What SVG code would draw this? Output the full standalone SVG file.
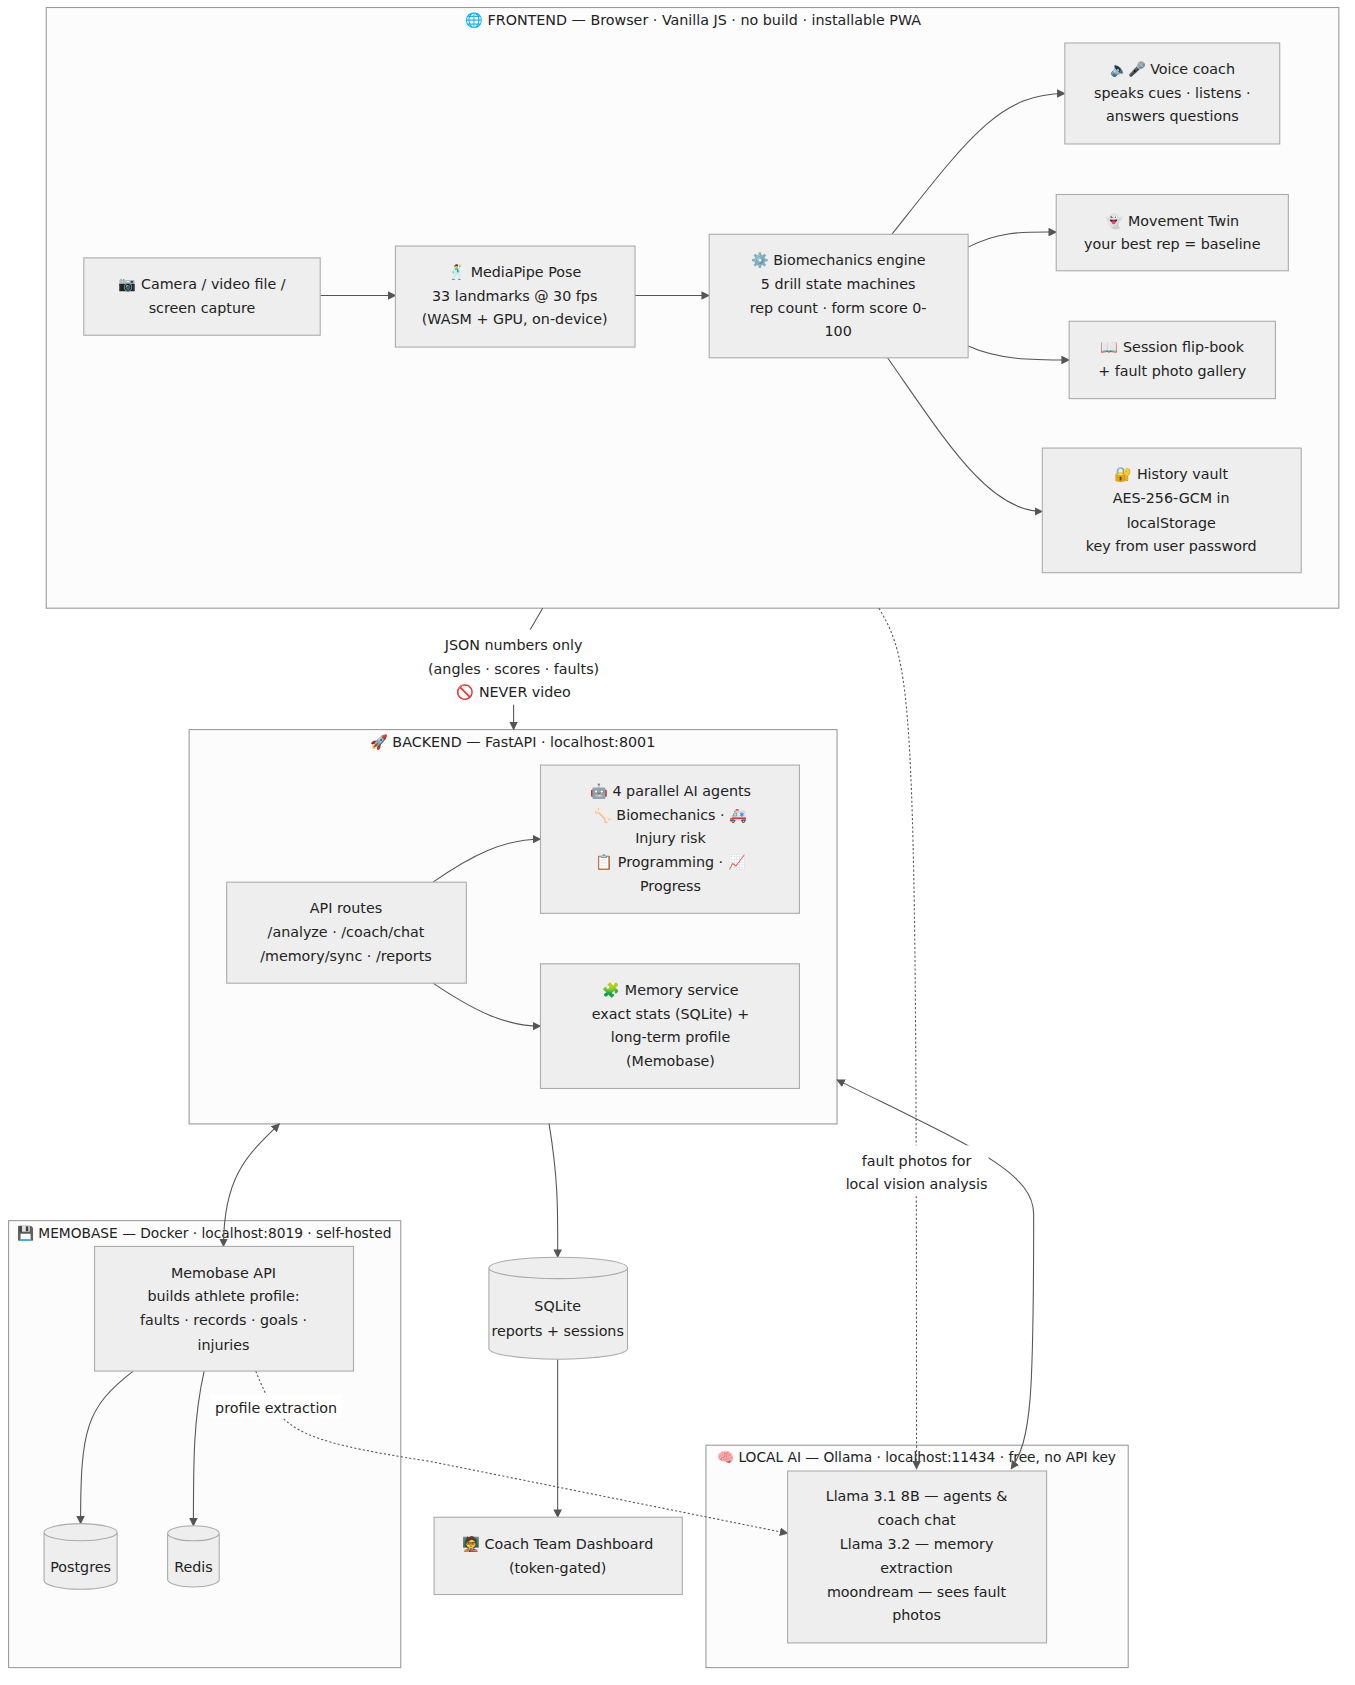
<svg xmlns="http://www.w3.org/2000/svg" width="1355" height="1685" viewBox="0 0 1355 1685">
<style>
text{font-family:"DejaVu Sans","Noto Sans",sans-serif;font-size:13.3px;fill:#222;text-anchor:middle}
.cl{fill:#fcfcfc;stroke:#999;stroke-width:1}
.n{fill:#eee;stroke:#aaa;stroke-width:1}
.e{fill:none;stroke:#555;stroke-width:1}
.d{fill:none;stroke:#555;stroke-width:1;stroke-dasharray:2 2}
</style>
<defs>
<marker id="a" viewBox="0 0 10 10" refX="9" refY="5" markerWidth="8" markerHeight="8" orient="auto-start-reverse"><path d="M0,0L10,5L0,10z" fill="#555"/></marker>
</defs>
<rect width="1355" height="1685" fill="#fff"/>
<g transform="scale(1.0745)">
<g id="frontend"><rect class="cl" x="43" y="7" width="1203" height="559"/><text x="645" y="23">🌐 FRONTEND — Browser · Vanilla JS · no build · installable PWA</text></g>
<g id="backend"><rect class="cl" x="176" y="679" width="603" height="367"/><text x="477" y="695">🚀 BACKEND — FastAPI · localhost:8001</text></g>
<g id="memobase"><rect class="cl" x="8" y="1136" width="365" height="416"/><text x="190" y="1152" style="font-size:12.8px">💾 MEMOBASE — Docker · localhost:8019 · self-hosted</text></g>
<g id="localai"><rect class="cl" x="657" y="1345" width="393" height="207"/><text x="853" y="1361" style="font-size:12.8px">🧠 LOCAL AI — Ollama · localhost:11434 · free, no API key</text></g>

<g id="edges">
<path class="e" d="M298,275L368,275" marker-end="url(#a)"/>
<path class="e" d="M591,275L660,275" marker-end="url(#a)"/>
<path class="e" d="M830,218C900,130 930,87 991,87" marker-end="url(#a)"/>
<path class="e" d="M901,230C930,215 950,216 983,216" marker-end="url(#a)"/>
<path class="e" d="M901,322C930,335 960,335 995,335" marker-end="url(#a)"/>
<path class="e" d="M826,333C880,410 920,476 970,476" marker-end="url(#a)"/>
<path class="e" d="M505,566L490,592"/>
<path class="e" d="M478,656L478,679" marker-end="url(#a)"/>
<path class="e" d="M403,821C440,795 470,781 503,781" marker-end="url(#a)"/>
<path class="e" d="M403,915C440,940 470,955 503,955" marker-end="url(#a)"/>
<path class="e" d="M260,1046C230,1075 208,1095 208,1160" marker-start="url(#a)" marker-end="url(#a)"/>
<path class="e" d="M511,1046C520,1100 519,1130 519,1170" marker-end="url(#a)"/>
<path class="e" d="M519,1265L519,1412" marker-end="url(#a)"/>
<path class="e" d="M124,1276C80,1310 75,1330 75,1418" marker-end="url(#a)"/>
<path class="e" d="M190,1276C180,1320 180,1360 180,1420" marker-end="url(#a)"/>
<path class="d" d="M238,1276C260,1330 270,1340 400,1360L733,1427" marker-end="url(#a)"/>
<path class="d" d="M818,566C850,620 853,650 853,1367" marker-end="url(#a)"/>
<path class="e" d="M941,1367C960,1340 962,1300 962,1130C962,1090 900,1065 779,1005" marker-start="url(#a)" marker-end="url(#a)"/>
<rect x="396" y="586" width="164" height="66" fill="#fff"/>
<text x="478" y="605">JSON numbers only</text><text x="478" y="627">(angles · scores · faults)</text><text x="478" y="649">🚫 NEVER video</text>
<rect x="786" y="1066" width="134" height="46" fill="#fff"/>
<text x="853" y="1085">fault photos for</text><text x="853" y="1107">local vision analysis</text>
<rect x="196" y="1298" width="122" height="22" fill="#fff"/>
<text x="257" y="1315">profile extraction</text>
</g>

<g id="camera"><rect class="n" x="78" y="240" width="220" height="72"/><text x="188" y="269">📷 Camera / video file /</text><text x="188" y="291">screen capture</text></g>
<g id="mediapipe"><rect class="n" x="368" y="229" width="223" height="94"/><text x="479" y="258">🕺 MediaPipe Pose</text><text x="479" y="280">33 landmarks @ 30 fps</text><text x="479" y="302">(WASM + GPU, on-device)</text></g>
<g id="biomech"><rect class="n" x="660" y="218" width="241" height="115"/><text x="780" y="247">⚙️ Biomechanics engine</text><text x="780" y="269">5 drill state machines</text><text x="780" y="291">rep count · form score 0-</text><text x="780" y="313">100</text></g>
<g id="voice"><rect class="n" x="991" y="40" width="200" height="94"/><text x="1091" y="69">🔈🎤 Voice coach</text><text x="1091" y="91">speaks cues · listens ·</text><text x="1091" y="113">answers questions</text></g>
<g id="twin"><rect class="n" x="983" y="181" width="216" height="71"/><text x="1091" y="210">👻 Movement Twin</text><text x="1091" y="232">your best rep = baseline</text></g>
<g id="flipbook"><rect class="n" x="995" y="299" width="192" height="72"/><text x="1091" y="328">📖 Session flip-book</text><text x="1091" y="350">+ fault photo gallery</text></g>
<g id="vault"><rect class="n" x="970" y="417" width="241" height="116"/><text x="1090" y="446">🔐 History vault</text><text x="1090" y="468">AES-256-GCM in</text><text x="1090" y="491">localStorage</text><text x="1090" y="513">key from user password</text></g>
<g id="agents"><rect class="n" x="503" y="712" width="241" height="138"/><text x="624" y="741">🤖 4 parallel AI agents</text><text x="624" y="763">🦴 Biomechanics · 🚑</text><text x="624" y="785">Injury risk</text><text x="624" y="807">📋 Programming · 📈</text><text x="624" y="829">Progress</text></g>
<g id="api"><rect class="n" x="211" y="821" width="223" height="94"/><text x="322" y="850">API routes</text><text x="322" y="872">/analyze · /coach/chat</text><text x="322" y="894">/memory/sync · /reports</text></g>
<g id="memory"><rect class="n" x="503" y="897" width="241" height="116"/><text x="624" y="926">🧩 Memory service</text><text x="624" y="948">exact stats (SQLite) +</text><text x="624" y="970">long-term profile</text><text x="624" y="992">(Memobase)</text></g>
<g id="memoapi"><rect class="n" x="88" y="1160" width="241" height="116"/><text x="208" y="1189">Memobase API</text><text x="208" y="1211">builds athlete profile:</text><text x="208" y="1233">faults · records · goals ·</text><text x="208" y="1256">injuries</text></g>
<g id="postgres"><path class="n" d="M41,1426L41,1471A34,8 0 0 0 109,1471L109,1426A34,8 0 0 0 41,1426A34,8 0 0 0 109,1426"/><text x="75" y="1463">Postgres</text></g>
<g id="redis"><path class="n" d="M156,1427L156,1470A24,7 0 0 0 204,1470L204,1427A24,7 0 0 0 156,1427A24,7 0 0 0 204,1427"/><text x="180" y="1463">Redis</text></g>
<g id="sqlite"><path class="n" d="M455,1180L455,1255A64.5,10 0 0 0 584,1255L584,1180A64.5,10 0 0 0 455,1180A64.5,10 0 0 0 584,1180"/><text x="519" y="1220">SQLite</text><text x="519" y="1243">reports + sessions</text></g>
<g id="dashboard"><rect class="n" x="404" y="1412" width="231" height="72"/><text x="519" y="1442">🧑‍🏫 Coach Team Dashboard</text><text x="519" y="1464">(token-gated)</text></g>
<g id="llama"><rect class="n" x="733" y="1369" width="241" height="160"/><text x="853" y="1397">Llama 3.1 8B — agents &amp;</text><text x="853" y="1419">coach chat</text><text x="853" y="1442">Llama 3.2 — memory</text><text x="853" y="1464">extraction</text><text x="853" y="1486">moondream — sees fault</text><text x="853" y="1508">photos</text></g>
</g>
</svg>
